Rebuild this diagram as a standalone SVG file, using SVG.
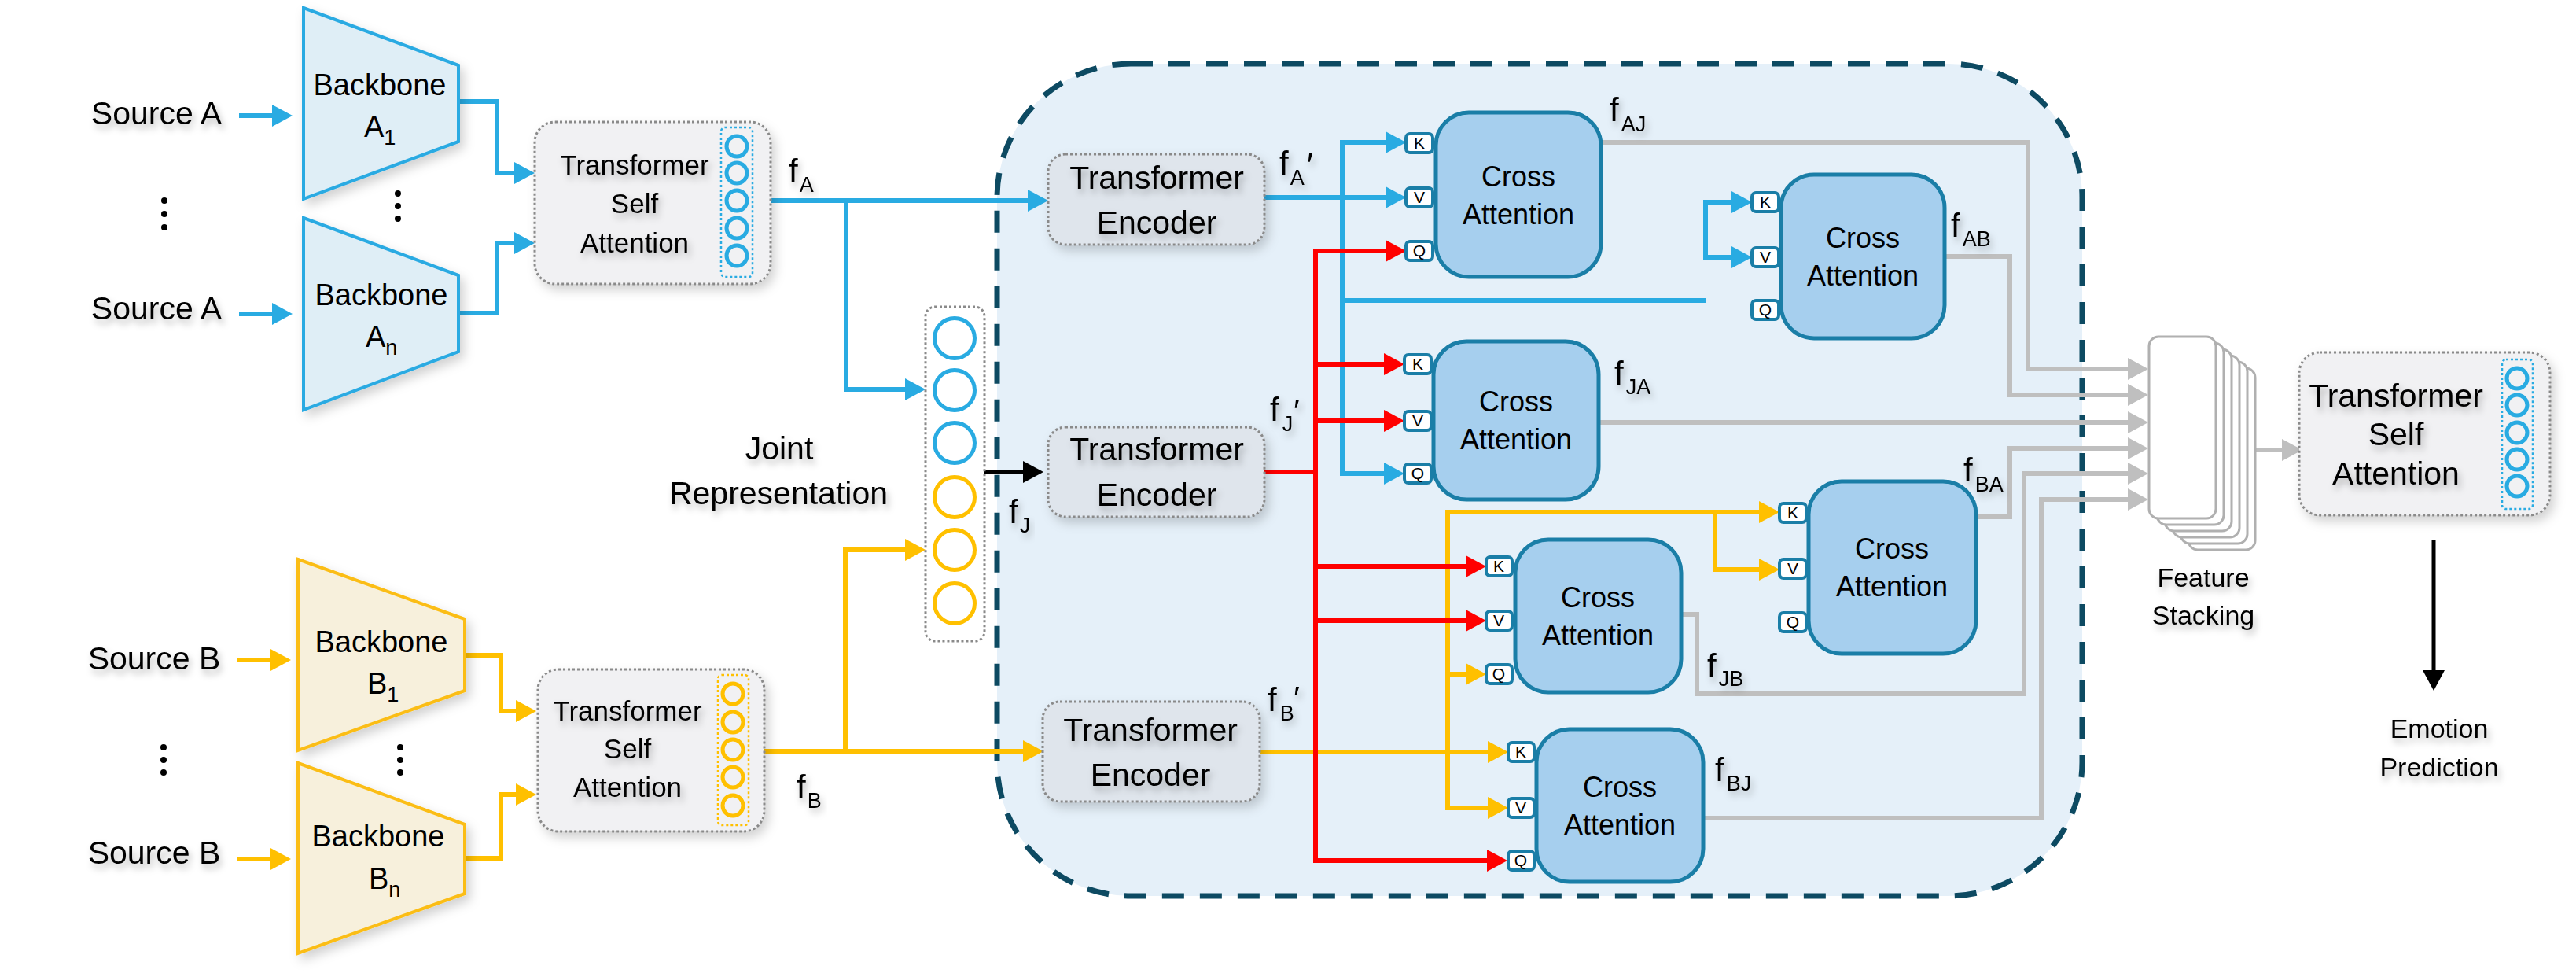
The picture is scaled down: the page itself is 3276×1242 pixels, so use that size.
<svg xmlns="http://www.w3.org/2000/svg" width="3276" height="1242" viewBox="0 0 3276 1242">
<defs>
<style>
.t{font-family:"Liberation Sans",Arial,"DejaVu Sans",sans-serif;fill:#000;}
.big{font-size:41px;}
.tsa{font-size:35px;}
.bb{font-size:38px;}
.ca{font-size:36px;text-anchor:middle;}
.mid{text-anchor:middle;}
.fl{font-size:42px;}
.sb{font-size:27px;}
.pt{font-size:21px;text-anchor:middle;}
.sm{font-size:34px;text-anchor:middle;}
.cb{fill:none;stroke:#29abe2;stroke-width:6;}
.cy{fill:none;stroke:#ffc000;stroke-width:6;}
.cr{fill:none;stroke:#ff0000;stroke-width:6;}
.cg{fill:none;stroke:#bfbfbf;stroke-width:6;}
.ck{fill:none;stroke:#000;stroke-width:5;}
.box{fill:#f1f1f3;stroke:#8a8a8a;stroke-width:3;stroke-dasharray:3 3;}
.te{fill:#dfe5ec;stroke:#8a8a8a;stroke-width:3;stroke-dasharray:3 3;}
.cab{fill:#a6cfee;stroke:#1a7ea7;stroke-width:5;}
.port{fill:#ffffff;stroke:#1a7ea7;stroke-width:4;}
.bbA{fill:#dfeef6;stroke:#2aaae2;stroke-width:4;}
.bbB{fill:#f7f0dc;stroke:#fbbd12;stroke-width:4;}
.ob{fill:none;stroke:#29abe2;stroke-width:5;}
.oy{fill:none;stroke:#ffc000;stroke-width:5;}
.db{fill:none;stroke:#29abe2;stroke-width:2.5;stroke-dasharray:3 3;}
.dy{fill:none;stroke:#ffc000;stroke-width:2.5;stroke-dasharray:3 3;}
.card{fill:#ffffff;stroke:#b0b0b0;stroke-width:3;}
.dot{fill:#000;}
</style>
<filter id="ts" x="-10%" y="-40%" width="130%" height="200%"><feDropShadow dx="3" dy="6" stdDeviation="4" flood-color="#000" flood-opacity="0.28"/></filter>
<filter id="bs" x="-10%" y="-10%" width="130%" height="130%"><feDropShadow dx="5" dy="7" stdDeviation="7" flood-color="#000" flood-opacity="0.18"/></filter>
<marker id="ab" viewBox="0 0 26 28" refX="20" refY="14" markerWidth="26" markerHeight="28" markerUnits="userSpaceOnUse" orient="auto-start-reverse"><path d="M0,0 L26,14 L0,28 z" fill="#29abe2"/></marker>
<marker id="ay" viewBox="0 0 26 28" refX="20" refY="14" markerWidth="26" markerHeight="28" markerUnits="userSpaceOnUse" orient="auto-start-reverse"><path d="M0,0 L26,14 L0,28 z" fill="#ffc000"/></marker>
<marker id="ar" viewBox="0 0 26 28" refX="20" refY="14" markerWidth="26" markerHeight="28" markerUnits="userSpaceOnUse" orient="auto-start-reverse"><path d="M0,0 L26,14 L0,28 z" fill="#ff0000"/></marker>
<marker id="ag" viewBox="0 0 26 28" refX="20" refY="14" markerWidth="26" markerHeight="28" markerUnits="userSpaceOnUse" orient="auto-start-reverse"><path d="M0,0 L26,14 L0,28 z" fill="#bfbfbf"/></marker>
<marker id="ak" viewBox="0 0 26 28" refX="20" refY="14" markerWidth="26" markerHeight="28" markerUnits="userSpaceOnUse" orient="auto-start-reverse"><path d="M0,0 L26,14 L0,28 z" fill="#000"/></marker>
</defs>
<rect width="3276" height="1242" fill="#ffffff"/>

<g id="fusion-region">
<rect x="1268" y="81" width="1380" height="1058" rx="170" ry="170" fill="#e5f0f9" stroke="#0d4a62" stroke-width="7" stroke-dasharray="28 20"/>
</g>

<g id="connectors">
<!-- blue -->
<path class="cb" d="M304,147 H366" marker-end="url(#ab)"/>
<path class="cb" d="M304,399 H366" marker-end="url(#ab)"/>
<path class="cb" d="M583,129 H632 V220 H674" marker-end="url(#ab)"/>
<path class="cb" d="M583,398 H632 V309 H674" marker-end="url(#ab)"/>
<path class="cb" d="M980,255 H1327" marker-end="url(#ab)"/>
<path class="cb" d="M1076,255 V495 H1171" marker-end="url(#ab)"/>
<path class="cb" d="M1608,251 H1782" marker-end="url(#ab)"/>
<path class="cb" d="M1707,382 V181 H1782" marker-end="url(#ab)"/>
<path class="cb" d="M1707,380 V602 H1780" marker-end="url(#ab)"/>
<path class="cb" d="M1707,382 H2169"/>
<path class="cb" d="M2222,257 H2169 V327 H2222" marker-start="url(#ab)" marker-end="url(#ab)"/>
<!-- yellow -->
<path class="cy" d="M302,839 H364" marker-end="url(#ay)"/>
<path class="cy" d="M302,1092 H364" marker-end="url(#ay)"/>
<path class="cy" d="M591,833 H637 V904 H676" marker-end="url(#ay)"/>
<path class="cy" d="M591,1091 H637 V1010 H676" marker-end="url(#ay)"/>
<path class="cy" d="M972,955 H1321" marker-end="url(#ay)"/>
<path class="cy" d="M1075,955 V699 H1171" marker-end="url(#ay)"/>
<path class="cy" d="M1602,956 H1912" marker-end="url(#ay)"/>
<path class="cy" d="M1841,1027 V651 H2257" marker-end="url(#ay)"/>
<path class="cy" d="M2181,651 V724 H2257" marker-end="url(#ay)"/>
<path class="cy" d="M1841,857 H1884" marker-end="url(#ay)"/>
<path class="cy" d="M1838,1027 H1912" marker-end="url(#ay)"/>
<!-- red -->
<path class="cr" d="M1608,600 H1673"/>
<path class="cr" d="M1673,316 V1097"/>
<path class="cr" d="M1673,319 H1782" marker-end="url(#ar)"/>
<path class="cr" d="M1673,463 H1780" marker-end="url(#ar)"/>
<path class="cr" d="M1673,535 H1780" marker-end="url(#ar)"/>
<path class="cr" d="M1673,720 H1884" marker-end="url(#ar)"/>
<path class="cr" d="M1673,789 H1884" marker-end="url(#ar)"/>
<path class="cr" d="M1670,1094 H1911" marker-end="url(#ar)"/>
<!-- gray -->
<path class="cg" d="M2036,181 H2579 V469 H2726" marker-end="url(#ag)"/>
<path class="cg" d="M2473,326 H2556 V502 H2726" marker-end="url(#ag)"/>
<path class="cg" d="M2033,537 H2726" marker-end="url(#ag)"/>
<path class="cg" d="M2513,657 H2556 V570 H2726" marker-end="url(#ag)"/>
<path class="cg" d="M2138,781 H2158 V882 H2574 V602 H2726" marker-end="url(#ag)"/>
<path class="cg" d="M2166,1040 H2596 V635 H2726" marker-end="url(#ag)"/>
<path class="cg" d="M2869,572 H2922" marker-end="url(#ag)"/>
<!-- black -->
<path class="ck" d="M1252,600 H1321" marker-end="url(#ak)"/>
<path class="ck" d="M3095,686 V872" marker-end="url(#ak)"/>
</g>

<g id="source-a1" filter="url(#ts)"><text class="t big mid" x="199" y="158">Source A</text></g>
<g id="source-a2" filter="url(#ts)"><text class="t big mid" x="199" y="406">Source A</text></g>
<g id="source-b1" filter="url(#ts)"><text class="t big mid" x="196" y="851">Source B</text></g>
<g id="source-b2" filter="url(#ts)"><text class="t big mid" x="196" y="1098">Source B</text></g>

<g id="dots">
<circle class="dot" cx="209" cy="255" r="4"/><circle class="dot" cx="209" cy="272" r="4"/><circle class="dot" cx="209" cy="289" r="4"/>
<circle class="dot" cx="506" cy="246" r="4"/><circle class="dot" cx="506" cy="262" r="4"/><circle class="dot" cx="506" cy="278" r="4"/>
<circle class="dot" cx="208" cy="950" r="4"/><circle class="dot" cx="208" cy="966" r="4"/><circle class="dot" cx="208" cy="982" r="4"/>
<circle class="dot" cx="509" cy="950" r="4"/><circle class="dot" cx="509" cy="966" r="4"/><circle class="dot" cx="509" cy="982" r="4"/>
</g>

<g id="backbone-a1">
<polygon class="bbA" filter="url(#bs)" points="386,10 583,83 583,180 386,253"/>
<text class="t bb mid" x="483" y="121">Backbone</text>
<text class="t bb" x="463" y="174">A<tspan class="sb" dy="10">1</tspan></text>
</g>
<g id="backbone-an">
<polygon class="bbA" filter="url(#bs)" points="386,277 583,350 583,447 386,521"/>
<text class="t bb mid" x="485" y="388">Backbone</text>
<text class="t bb" x="465" y="441">A<tspan class="sb" dy="10">n</tspan></text>
</g>
<g id="backbone-b1">
<polygon class="bbB" filter="url(#bs)" points="379,711 591,787 591,878 379,954"/>
<text class="t bb mid" x="485" y="829">Backbone</text>
<text class="t bb" x="467" y="882">B<tspan class="sb" dy="10">1</tspan></text>
</g>
<g id="backbone-bn">
<polygon class="bbB" filter="url(#bs)" points="379,970 591,1048 591,1136 379,1212"/>
<text class="t bb mid" x="481" y="1076">Backbone</text>
<text class="t bb" x="469" y="1130">B<tspan class="sb" dy="10">n</tspan></text>
</g>

<g id="tsa-a">
<rect class="box" filter="url(#bs)" x="680" y="155" width="300" height="206" rx="26"/>
<g filter="url(#ts)">
<text class="t tsa mid" x="807" y="222">Transformer</text>
<text class="t tsa mid" x="807" y="271">Self</text>
<text class="t tsa mid" x="807" y="321">Attention</text>
</g>
<rect class="db" x="917" y="162" width="40" height="190" rx="5"/>
<circle class="ob" cx="937" cy="186" r="13"/><circle class="ob" cx="937" cy="220" r="13"/><circle class="ob" cx="937" cy="255" r="13"/><circle class="ob" cx="937" cy="290" r="13"/><circle class="ob" cx="937" cy="325" r="13"/>
</g>

<g id="tsa-b">
<rect class="box" filter="url(#bs)" x="684" y="851" width="288" height="206" rx="26"/>
<g filter="url(#ts)">
<text class="t tsa mid" x="798" y="916">Transformer</text>
<text class="t tsa mid" x="798" y="964">Self</text>
<text class="t tsa mid" x="798" y="1013">Attention</text>
</g>
<rect class="dy" x="913" y="858" width="39" height="191" rx="5"/>
<circle class="oy" cx="932" cy="882" r="13"/><circle class="oy" cx="932" cy="918" r="13"/><circle class="oy" cx="932" cy="953" r="13"/><circle class="oy" cx="932" cy="988" r="13"/><circle class="oy" cx="932" cy="1024" r="13"/>
</g>

<g id="label-fa" filter="url(#ts)"><text class="t fl" x="1003" y="232">f<tspan class="sb" dx="2" dy="12">A</tspan></text></g>
<g id="label-fb" filter="url(#ts)"><text class="t fl" x="1013" y="1015">f<tspan class="sb" dx="2" dy="12">B</tspan></text></g>

<g id="joint-representation">
<rect x="1177" y="390" width="75" height="425" rx="12" fill="#ffffff" stroke="#8a8a8a" stroke-width="3" stroke-dasharray="3 3"/>
<circle class="ob" cx="1214" cy="430" r="25.5"/><circle class="ob" cx="1214" cy="496" r="25.5"/><circle class="ob" cx="1214" cy="563" r="25.5"/>
<circle class="oy" cx="1214" cy="632" r="25.5"/><circle class="oy" cx="1214" cy="699" r="25.5"/><circle class="oy" cx="1214" cy="767" r="25.5"/>
<g filter="url(#ts)">
<text class="t big mid" x="991" y="584">Joint</text>
<text class="t big mid" x="990" y="641">Representation</text>
</g>
</g>
<g id="label-fj" filter="url(#ts)"><text class="t fl" x="1283" y="665">f<tspan class="sb" dx="2" dy="12">J</tspan></text></g>

<g id="encoder-a">
<rect class="te" filter="url(#bs)" x="1333" y="196" width="275" height="115" rx="22"/>
<g filter="url(#ts)"><text class="t big mid" x="1471" y="240">Transformer</text><text class="t big mid" x="1471" y="297">Encoder</text></g>
</g>
<g id="encoder-j">
<rect class="te" filter="url(#bs)" x="1333" y="543" width="275" height="114" rx="22"/>
<g filter="url(#ts)"><text class="t big mid" x="1471" y="585">Transformer</text><text class="t big mid" x="1471" y="643">Encoder</text></g>
</g>
<g id="encoder-b">
<rect class="te" filter="url(#bs)" x="1326" y="892" width="276" height="127" rx="22"/>
<g filter="url(#ts)"><text class="t big mid" x="1463" y="942">Transformer</text><text class="t big mid" x="1463" y="999">Encoder</text></g>
</g>

<g id="label-fa-prime" filter="url(#ts)"><text class="t fl" x="1627" y="222">f<tspan class="sb" dx="2" dy="13">A</tspan></text><text class="t fl" x="1662" y="224">′</text></g>
<g id="label-fj-prime" filter="url(#ts)"><text class="t fl" x="1615" y="535">f<tspan class="sb" dx="4" dy="13">J</tspan></text><text class="t fl" x="1645" y="537">′</text></g>
<g id="label-fb-prime" filter="url(#ts)"><text class="t fl" x="1612" y="904">f<tspan class="sb" dx="4" dy="12">B</tspan></text><text class="t fl" x="1645" y="902">′</text></g>

<g id="cross-attention-aj">
<rect class="cab" x="1826" y="143" width="210" height="209" rx="42"/>
<text class="t ca" x="1931" y="237">Cross</text><text class="t ca" x="1931" y="285">Attention</text>
<rect class="port" x="1788" y="170" width="34" height="24" rx="5"/><text class="t pt" x="1805" y="189">K</text>
<rect class="port" x="1788" y="239" width="34" height="24" rx="5"/><text class="t pt" x="1805" y="258">V</text>
<rect class="port" x="1788" y="307" width="34" height="24" rx="5"/><text class="t pt" x="1805" y="326">Q</text>
</g>
<g id="cross-attention-ja">
<rect class="cab" x="1823" y="434" width="210" height="201" rx="42"/>
<text class="t ca" x="1928" y="523">Cross</text><text class="t ca" x="1928" y="571">Attention</text>
<rect class="port" x="1786" y="451" width="34" height="24" rx="5"/><text class="t pt" x="1803" y="470">K</text>
<rect class="port" x="1786" y="523" width="34" height="24" rx="5"/><text class="t pt" x="1803" y="542">V</text>
<rect class="port" x="1786" y="590" width="34" height="24" rx="5"/><text class="t pt" x="1803" y="609">Q</text>
</g>
<g id="cross-attention-ab">
<rect class="cab" x="2265" y="222" width="208" height="208" rx="42"/>
<text class="t ca" x="2369" y="315">Cross</text><text class="t ca" x="2369" y="363">Attention</text>
<rect class="port" x="2228" y="245" width="34" height="24" rx="5"/><text class="t pt" x="2245" y="264">K</text>
<rect class="port" x="2228" y="315" width="34" height="24" rx="5"/><text class="t pt" x="2245" y="334">V</text>
<rect class="port" x="2228" y="382" width="34" height="24" rx="5"/><text class="t pt" x="2245" y="401">Q</text>
</g>
<g id="cross-attention-ba">
<rect class="cab" x="2300" y="612" width="213" height="219" rx="42"/>
<text class="t ca" x="2406" y="710">Cross</text><text class="t ca" x="2406" y="758">Attention</text>
<rect class="port" x="2263" y="640" width="34" height="24" rx="5"/><text class="t pt" x="2280" y="659">K</text>
<rect class="port" x="2263" y="711" width="34" height="24" rx="5"/><text class="t pt" x="2280" y="730">V</text>
<rect class="port" x="2263" y="779" width="34" height="24" rx="5"/><text class="t pt" x="2280" y="798">Q</text>
</g>
<g id="cross-attention-jb">
<rect class="cab" x="1927" y="686" width="211" height="194" rx="42"/>
<text class="t ca" x="2032" y="772">Cross</text><text class="t ca" x="2032" y="820">Attention</text>
<rect class="port" x="1890" y="708" width="33" height="24" rx="5"/><text class="t pt" x="1906" y="727">K</text>
<rect class="port" x="1890" y="777" width="33" height="24" rx="5"/><text class="t pt" x="1906" y="796">V</text>
<rect class="port" x="1890" y="845" width="33" height="24" rx="5"/><text class="t pt" x="1906" y="864">Q</text>
</g>
<g id="cross-attention-bj">
<rect class="cab" x="1954" y="927" width="212" height="194" rx="42"/>
<text class="t ca" x="2060" y="1013">Cross</text><text class="t ca" x="2060" y="1061">Attention</text>
<rect class="port" x="1918" y="944" width="33" height="24" rx="5"/><text class="t pt" x="1934" y="963">K</text>
<rect class="port" x="1918" y="1015" width="33" height="24" rx="5"/><text class="t pt" x="1934" y="1034">V</text>
<rect class="port" x="1918" y="1082" width="33" height="24" rx="5"/><text class="t pt" x="1934" y="1101">Q</text>
</g>

<g id="label-faj" filter="url(#ts)"><text class="t fl" x="2047" y="154">f<tspan class="sb" dx="3" dy="13">AJ</tspan></text></g>
<g id="label-fja" filter="url(#ts)"><text class="t fl" x="2053" y="489">f<tspan class="sb" dx="3" dy="12">JA</tspan></text></g>
<g id="label-fab" filter="url(#ts)"><text class="t fl" x="2481" y="301">f<tspan class="sb" dx="3" dy="12">AB</tspan></text></g>
<g id="label-fba" filter="url(#ts)"><text class="t fl" x="2497" y="612">f<tspan class="sb" dx="3" dy="13">BA</tspan></text></g>
<g id="label-fjb" filter="url(#ts)"><text class="t fl" x="2171" y="861">f<tspan class="sb" dx="3" dy="11">JB</tspan></text></g>
<g id="label-fbj" filter="url(#ts)"><text class="t fl" x="2181" y="993">f<tspan class="sb" dx="3" dy="12">BJ</tspan></text></g>

<g id="feature-stacking">
<rect class="card" x="2783" y="468" width="85" height="231" rx="12"/>
<rect class="card" x="2773" y="460" width="85" height="231" rx="12"/>
<rect class="card" x="2763" y="452" width="85" height="231" rx="12"/>
<rect class="card" x="2753" y="444" width="85" height="231" rx="12"/>
<rect class="card" x="2743" y="436" width="85" height="231" rx="12"/>
<rect class="card" x="2733" y="428" width="85" height="231" rx="12"/>
<g filter="url(#ts)"><text class="t sm" x="2802" y="746">Feature</text><text class="t sm" x="2802" y="794">Stacking</text></g>
</g>

<g id="tsa-final">
<rect class="box" filter="url(#bs)" x="2924" y="448" width="319" height="207" rx="26"/>
<g filter="url(#ts)">
<text class="t big mid" x="3047" y="517">Transformer</text>
<text class="t big mid" x="3047" y="566">Self</text>
<text class="t big mid" x="3047" y="616">Attention</text>
</g>
<rect class="db" x="3182" y="457" width="39" height="190" rx="5"/>
<circle class="ob" cx="3201" cy="481" r="13"/><circle class="ob" cx="3201" cy="515" r="13"/><circle class="ob" cx="3201" cy="550" r="13"/><circle class="ob" cx="3201" cy="584" r="13"/><circle class="ob" cx="3201" cy="618" r="13"/>
</g>

<g id="emotion-prediction" filter="url(#ts)"><text class="t sm" x="3102" y="938">Emotion</text><text class="t sm" x="3102" y="987">Prediction</text></g>
</svg>
